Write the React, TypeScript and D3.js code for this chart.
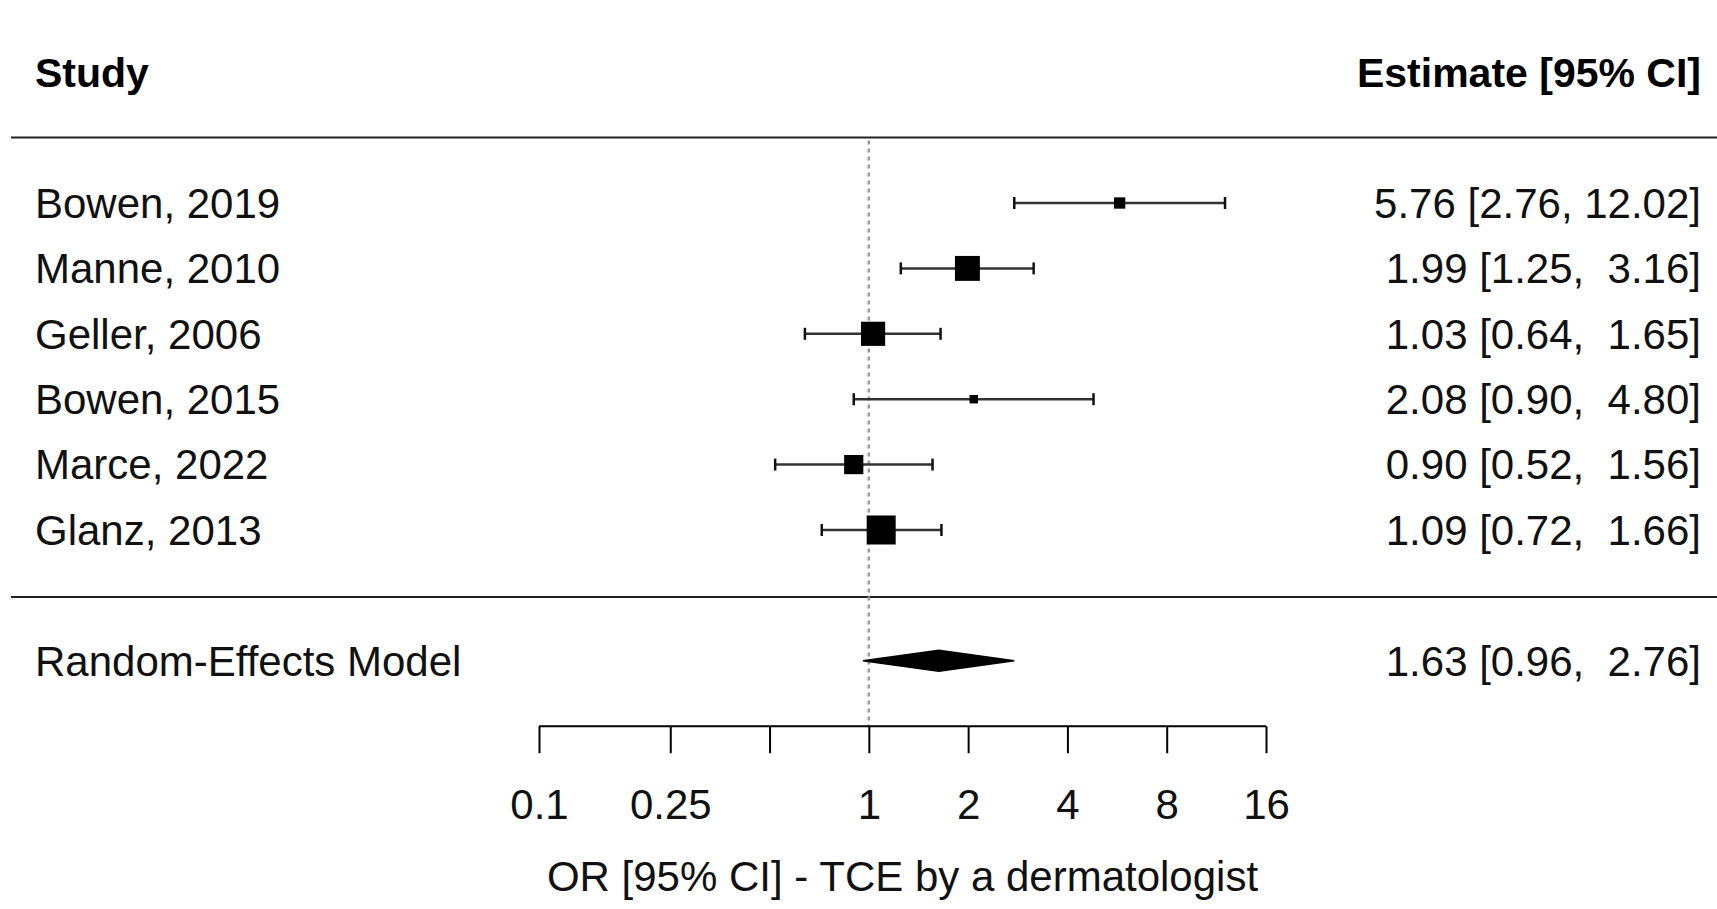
import React, { useEffect, useRef } from 'react';
import * as d3 from 'd3';

// study rows, top to bottom
const studies = ['Bowen, 2019', 'Manne, 2010', 'Geller, 2006', 'Bowen, 2015', 'Marce, 2022', 'Glanz, 2013'];
const estimates = [5.76, 1.99, 1.03, 2.08, 0.9, 1.09];
const lowerCI = [2.76, 1.25, 0.64, 0.9, 0.52, 0.72];
const upperCI = [12.02, 3.16, 1.65, 4.8, 1.56, 1.66];

// random-effects summary
const pooledLabel = 'Random-Effects Model';
const pooledEstimate = [1.63];
const pooledLower = [0.96];
const pooledUpper = [2.76];

const tickValues = [0.1, 0.25, 0.5, 1, 2, 4, 8, 16];
const tickLabels = ['0.1', '0.25', '', '1', '2', '4', '8', '16'];

const xTitle = 'OR [95% CI] - TCE by a dermatologist';
const leftHeader = 'Study';
const rightHeader = 'Estimate [95% CI]';

const width = 1717;
const height = 909;
const font = '"Liberation Sans", Arial, Helvetica, sans-serif';
const fontSize = 42;
const headerSize = 41;

const fmt = (est, lo, hi) =>
  `${est.toFixed(2)} [${lo.toFixed(2)}, ${hi.toFixed(2).padStart(5, ' ')}]`;

const App = () => {
  const container = useRef(null);

  useEffect(() => {
    createChart();
  }, []);

  const createChart = () => {
    const svg = d3
      .select(container.current)
      .selectAll('svg')
      .data([0])
      .join('svg')
      .attr('width', width)
      .attr('height', height)
      .style('position', 'absolute')
      .style('left', 0)
      .style('top', 0)
      .style('background', '#fff');

    svg.selectAll('*').remove();

    const xScale = d3.scaleLog().domain([0.1, 16]).range([539, 1266]);
    // row index -> pixel; -2 header, -1 top rule, 0..5 studies, 7 summary, 8 axis
    const yRow = d3.scaleLinear().domain([0, 1]).range([203, 268.4]);

    const rows = studies.map((s, i) => ({
      name: s,
      est: estimates[i],
      lo: lowerCI[i],
      hi: upperCI[i],
      prec: 1 / ((Math.log(upperCI[i]) - Math.log(lowerCI[i])) / (2 * 1.96)),
      y: yRow(i)
    }));

    const sizeScale = d3
      .scaleLinear()
      .domain(d3.extent(rows, d => d.prec))
      .range([8.5, 29]);

    const g = svg.append('g').style('font-family', font).style('font-size', `${fontSize}px`);

    // headers
    g.append('text')
      .attr('x', 35)
      .attr('y', yRow(-2))
      .attr('dy', '0.35em')
      .style('font-weight', 'bold')
      .style('font-size', `${headerSize}px`)
      .attr('fill', '#000')
      .text(leftHeader);
    g.append('text')
      .attr('x', 1701)
      .attr('y', yRow(-2))
      .attr('dy', '0.35em')
      .attr('text-anchor', 'end')
      .style('font-weight', 'bold')
      .style('font-size', `${headerSize}px`)
      .attr('fill', '#000')
      .text(rightHeader);

    // horizontal rules
    g.append('line')
      .attr('x1', 11)
      .attr('x2', width)
      .attr('y1', yRow(-1))
      .attr('y2', yRow(-1))
      .attr('stroke', '#222')
      .attr('stroke-width', 2);
    g.append('line')
      .attr('x1', 11)
      .attr('x2', width)
      .attr('y1', yRow(6) + 1.5)
      .attr('y2', yRow(6) + 1.5)
      .attr('stroke', '#222')
      .attr('stroke-width', 2);

    // reference line at OR = 1
    g.append('line')
      .attr('x1', xScale(1))
      .attr('x2', xScale(1))
      .attr('y1', yRow(-1) + 3)
      .attr('y2', yRow(8))
      .attr('stroke', '#999')
      .attr('stroke-width', 2.5)
      .attr('stroke-dasharray', '4 4');

    // CI lines
    g.selectAll('.ci')
      .data(rows)
      .join('line')
      .attr('class', 'ci')
      .attr('x1', d => xScale(d.lo))
      .attr('x2', d => xScale(d.hi))
      .attr('y1', d => d.y)
      .attr('y2', d => d.y)
      .attr('stroke', '#333')
      .attr('stroke-width', 2.5);

    const ends = rows.flatMap(d => [
      { x: xScale(d.lo), y: d.y },
      { x: xScale(d.hi), y: d.y }
    ]);
    g.selectAll('.whisk')
      .data(ends)
      .join('line')
      .attr('class', 'whisk')
      .attr('x1', d => d.x)
      .attr('x2', d => d.x)
      .attr('y1', d => d.y - 6)
      .attr('y2', d => d.y + 6)
      .attr('stroke', '#111')
      .attr('stroke-width', 2.5);

    g.selectAll('.box')
      .data(rows)
      .join('rect')
      .attr('class', 'box')
      .attr('x', d => xScale(d.est) - sizeScale(d.prec) / 2)
      .attr('y', d => d.y - sizeScale(d.prec) / 2)
      .attr('width', d => sizeScale(d.prec))
      .attr('height', d => sizeScale(d.prec))
      .attr('fill', '#000');

    // labels
    g.selectAll('.lab')
      .data(rows)
      .join('text')
      .attr('class', 'lab')
      .attr('x', 35)
      .attr('y', d => d.y)
      .attr('dy', '0.35em')
      .attr('fill', '#111')
      .text(d => d.name);

    g.selectAll('.ann')
      .data(rows)
      .join('text')
      .attr('class', 'ann')
      .attr('x', 1701)
      .attr('y', d => d.y)
      .attr('dy', '0.35em')
      .attr('text-anchor', 'end')
      .attr('fill', '#111')
      .style('white-space', 'pre')
      .text(d => fmt(d.est, d.lo, d.hi));

    // summary diamond
    const ySum = yRow(7);
    const pooled = pooledEstimate.map((e, i) => ({ est: e, lo: pooledLower[i], hi: pooledUpper[i] }));
    g.selectAll('.diamond')
      .data(pooled)
      .join('polygon')
      .attr('class', 'diamond')
      .attr('points', d =>
        [
          [xScale(d.lo), ySum],
          [xScale(d.est), ySum - 10.5],
          [xScale(d.hi), ySum],
          [xScale(d.est), ySum + 10.5]
        ]
          .map(p => p.join(','))
          .join(' ')
      )
      .attr('fill', '#000')
      .attr('stroke', '#000')
      .attr('stroke-width', 1.5);

    g.append('text')
      .attr('x', 35)
      .attr('y', ySum)
      .attr('dy', '0.35em')
      .attr('fill', '#111')
      .text(pooledLabel);
    g.selectAll('.pann')
      .data(pooled)
      .join('text')
      .attr('class', 'pann')
      .attr('x', 1701)
      .attr('y', ySum)
      .attr('dy', '0.35em')
      .attr('text-anchor', 'end')
      .attr('fill', '#111')
      .style('white-space', 'pre')
      .text(d => fmt(d.est, d.lo, d.hi));

    // x axis
    const xAxis = d3
      .axisBottom(xScale)
      .tickValues(tickValues)
      .tickSize(27)
      .tickPadding(36)
      .tickFormat((d, i) => tickLabels[i]);

    const axisG = g
      .append('g')
      .attr('transform', `translate(0, ${yRow(8)})`)
      .call(xAxis);
    axisG.select('.domain').attr('d', `M${xScale(0.1)},0H${xScale(16)}`).attr('stroke', '#000').attr('stroke-width', 2);
    axisG.selectAll('.tick line').attr('stroke', '#000').attr('stroke-width', 2);
    axisG
      .selectAll('.tick text')
      .style('font-family', font)
      .style('font-size', `${fontSize}px`)
      .attr('fill', '#111');

    g.append('text')
      .attr('x', (xScale(0.1) + xScale(16)) / 2)
      .attr('y', 876)
      .attr('dy', '0.35em')
      .attr('text-anchor', 'middle')
      .attr('fill', '#111')
      .text(xTitle);
  };

  return <div className="forest-container" ref={container}></div>;
};

export default App;
